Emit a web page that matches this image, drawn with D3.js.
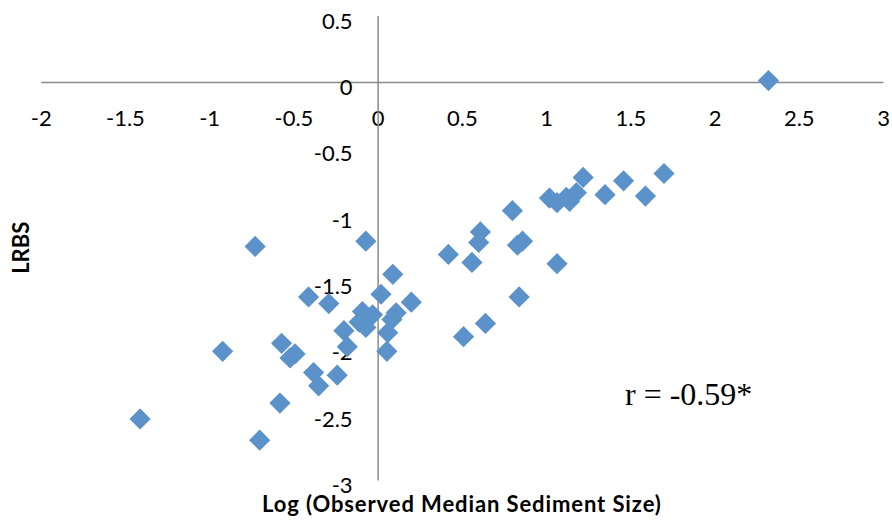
<!DOCTYPE html>
<html>
<head>
<meta charset="utf-8">
<script src="https://cdn.jsdelivr.net/npm/d3@7"></script>
<style>
  body { margin: 0; background: #fff; }
  svg text { font-family: Lato, "Open Sans", sans-serif; }
</style>
</head>
<body>
<div id="canvas"></div>
<script>
// canvas size
var cv = {
  'width': 892,
  'height': 521
};

// data
var logSize = [2.32, -1.41, -0.92, -0.727, -0.70, -0.58, -0.57, -0.49, -0.52, -0.38,
  -0.35, -0.24, -0.41, -0.29, -0.07, 0.09, 0.02, 0.20, -0.09, -0.03,
  -0.07, -0.11, -0.20, -0.18, 0.11, 0.085, 0.06, 0.055, 0.80, 0.61,
  0.60, 0.42, 0.56, 0.86, 0.83, 1.065, 0.84, 0.64, 0.51, 1.02,
  1.065, 1.12, 1.14, 1.18, 1.22, 1.35, 1.46, 1.59, 1.70];
var lrbs = [0.01, -2.54, -2.03, -1.24, -2.70, -2.42, -1.97, -2.05, -2.08, -2.19,
  -2.29, -2.21, -1.62, -1.67, -1.20, -1.45, -1.60, -1.66, -1.73, -1.755,
  -1.85, -1.81, -1.875, -1.995, -1.74, -1.79, -1.89, -2.03, -0.97, -1.13,
  -1.21, -1.30, -1.36, -1.20, -1.23, -1.37, -1.62, -1.82, -1.92, -0.875,
  -0.91, -0.87, -0.90, -0.835, -0.72, -0.85, -0.745, -0.86, -0.69];
var xTicks = [-2, -1.5, -1, -0.5, 0, 0.5, 1, 1.5, 2, 2.5, 3];
var yTicks = [0.5, 0, -0.5, -1, -1.5, -2, -2.5, -3];
var xTitle = 'Log (Observed Median Sediment Size)';
var yTitle = 'LRBS';
var note = 'r = -0.59*';

var points = logSize.map(function(d, i) { return {x: d, y: lrbs[i]}; });

// scales
var x = d3.scaleLinear().domain([-2, 3]).range([40.7, 883]);
var y = d3.scaleLinear().domain([-3, 0.5]).range([480, 15.6]);

var svg = d3.select('#canvas').append('svg')
  .attr('width', cv.width)
  .attr('height', cv.height);

var fmt = function(d) { return String(d); };

// x axis crossing at y = 0
var gx = svg.append('g')
  .attr('transform', 'translate(0,' + y(0) + ')')
  .call(d3.axisBottom(x).tickValues(xTicks).tickFormat(fmt).tickSize(0));
gx.select('.domain').attr('stroke', '#8a8a8a').attr('stroke-width', 1.5);
gx.selectAll('text')
  .attr('y', 36).attr('dy', '0.36em')
  .attr('font-size', 22).attr('fill', '#000');

// y axis crossing at x = 0
var gy = svg.append('g')
  .attr('transform', 'translate(' + x(0) + ',0)')
  .call(d3.axisLeft(y).tickValues(yTicks).tickFormat(fmt).tickSize(0));
gy.select('.domain').attr('stroke', '#8a8a8a').attr('stroke-width', 1.5);
gy.selectAll('text')
  .attr('x', -25).attr('y', 4.5).attr('dy', '0.36em')
  .attr('font-size', 22).attr('fill', '#000');

// points as diamonds
svg.selectAll('.pt')
  .data(points)
  .enter().append('path')
  .attr('class', 'pt')
  .attr('d', d3.symbol(d3.symbolSquare, 225))
  .attr('transform', d => 'translate(' + x(d.x) + ',' + y(d.y) + ') rotate(45)')
  .attr('fill', '#5b92c9');

// axis titles
svg.append('text')
  .attr('x', (x(-2) + x(3)) / 2)
  .attr('y', 512)
  .attr('text-anchor', 'middle')
  .attr('font-size', 22)
  .attr('font-weight', 'bold')
  .attr('letter-spacing', 0.9)
  .text(xTitle);

svg.append('text')
  .attr('transform', 'translate(29,' + (y(0.5) + y(-3)) / 2 + ') rotate(-90)')
  .attr('text-anchor', 'middle')
  .attr('font-size', 22)
  .attr('font-weight', 'bold')
  .text(yTitle);

// correlation note
svg.append('text')
  .attr('x', 625)
  .attr('y', 405)
  .attr('font-size', 32)
  .style('font-family', '"Liberation Serif", "Times New Roman", serif')
  .text(note);
</script>
</body>
</html>
